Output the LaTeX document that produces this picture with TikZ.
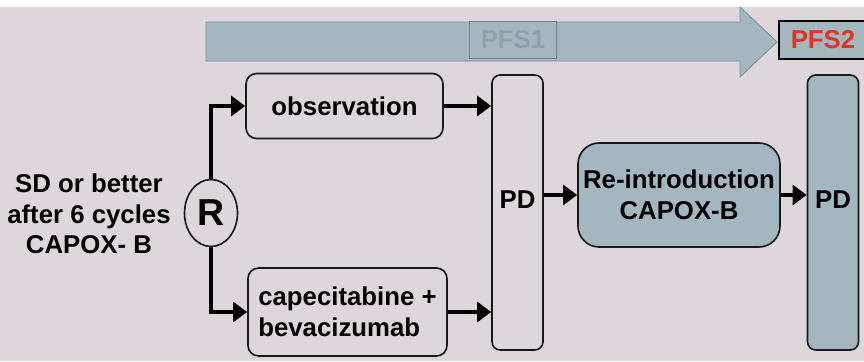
\documentclass[tikz,border=0pt]{standalone}
\usepackage{fontspec}
\setmainfont{Liberation Sans}
\usepackage{xcolor}
\usetikzlibrary{arrows.meta,positioning,calc,shapes.geometric}

\definecolor{slidebg}{RGB}{221,214,218}
\definecolor{steel}{RGB}{164,182,190}
\definecolor{steeldark}{RGB}{128,146,154}
\definecolor{pfsred}{RGB}{224,52,36}

\begin{document}
\begin{tikzpicture}[x=0.03cm, y=-0.03cm,
  font=\bfseries\fontsize{22}{26}\selectfont,
  box/.style={draw=black!90,line width=1.4pt,rounded corners=9pt,fill=slidebg},
  tallbox/.style={box,minimum width=51*0.03cm,minimum height=275*0.03cm,rounded corners=7pt},
  flow/.style={line width=3.8pt,-{Triangle[length=12pt,width=17pt]}}]
 % slide background
 \fill[white] (0,0) rectangle (864,361);
 \fill[slidebg] (0,7) rectangle (864,361);
 \useasboundingbox (0,0) rectangle (864,361);
 % time arrow with PFS labels
 \draw[fill=steel,draw=steeldark,line width=0.8pt] (206,22) -- (740,22) -- (740,7) -- (777,42)
   -- (740,77) -- (740,61) -- (206,61) -- cycle;
 \node[draw=steeldark!90!black,line width=1.4pt,fill=steel,text=steeldark!85!white,
   minimum width=87*0.03cm,minimum height=37*0.03cm,inner sep=0pt] (pfs1) at (513,40) {PFS1};
 \node[draw=black,line width=1.4pt,fill=steel,text=pfsred,
   minimum width=88*0.03cm,minimum height=38*0.03cm,inner sep=0pt] (pfs2) at (823,40) {PFS2};
 % randomisation
 \node[align=center] (sd) at (89,214) {SD or better\\after 6 cycles\\CAPOX- B};
 \node[draw=black!90,line width=1.4pt,ellipse,fill=slidebg,minimum width=53*0.03cm,
   minimum height=67*0.03cm,inner sep=0pt,font=\bfseries\fontsize{32}{34}\selectfont] (r) at (211,213) {R};
 % arms
 \node[box,minimum width=197*0.03cm,minimum height=65*0.03cm] (obs) at (344.5,106) {observation};
 \node[box,minimum width=199*0.03cm,minimum height=88*0.03cm,align=left] (cape) at (347.5,312)
   {capecitabine +\\bevacizumab};
 \draw[flow] (r.north) |- (obs.west);
 \draw[flow] (r.south) |- (cape.west);
 % first progression
 \node[tallbox] (pd1) at (517.5,212.5) {};
 \node (pd1t) at (517.5,200) {PD};
 \draw[flow] (obs.east) -- (obs.east -| pd1.west);
 \draw[flow] (cape.east) -- (cape.east -| pd1.west);
 % re-introduction and second progression
 \node[box,fill=steel,rounded corners=18pt,minimum width=202*0.03cm,minimum height=104*0.03cm,
   align=center] (reint) at (679,195) {Re-introduction\\CAPOX-B};
 \node[tallbox,fill=steel] (pd2) at (833,212.5) {};
 \node (pd2t) at (833,200) {PD};
 \draw[flow] (reint.west -| pd1.east) -- (reint.west);
 \draw[flow] (reint.east) -- (reint.east -| pd2.west);
\end{tikzpicture}
\end{document}
